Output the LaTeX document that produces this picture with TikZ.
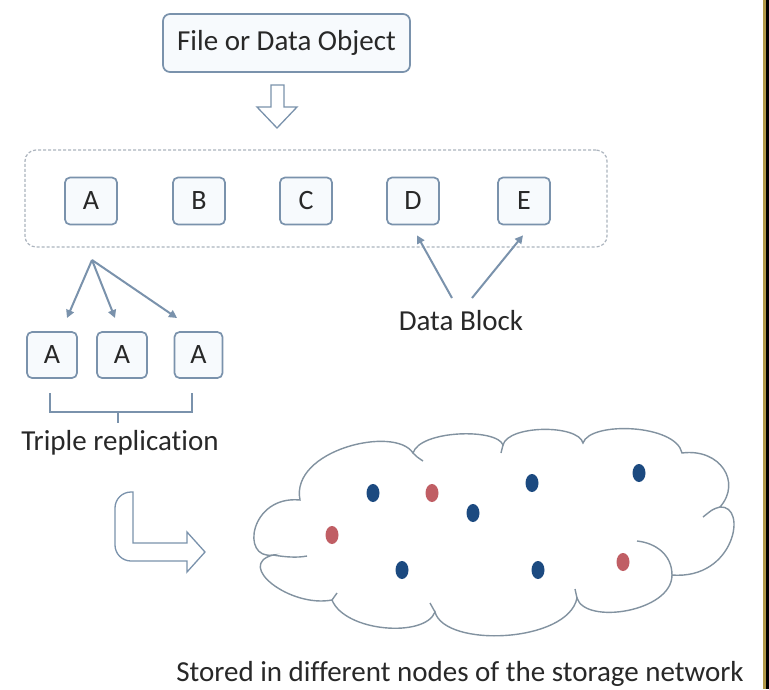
\documentclass[tikz,border=0pt]{standalone}
\usepackage{fontspec}
\setmainfont[Ligatures=NoCommon]{Carlito}
\usetikzlibrary{arrows.meta,calc}

\definecolor{edge}{RGB}{122,146,172}
\definecolor{boxfill}{RGB}{247,250,253}
\definecolor{ink}{RGB}{40,40,40}
\definecolor{dotblue}{RGB}{28,74,128}
\definecolor{dotred}{RGB}{192,94,100}
\definecolor{dashgray}{RGB}{172,180,190}
\definecolor{cloudline}{RGB}{130,146,160}
\definecolor{gold}{RGB}{176,152,72}

\begin{document}
\begin{tikzpicture}[x=1pt,y=-1pt,
  txt/.style={font=\fontsize{29}{32}\selectfont, text=ink, inner sep=0pt},
  blk/.style={draw=edge, line width=1.7pt, fill=boxfill, rounded corners=5pt,
    minimum width=52pt, minimum height=47pt, inner sep=0pt,
    font=\fontsize{28}{30}\selectfont, text=ink},
  link/.style={draw=edge, line width=2pt, -{Triangle[length=8pt,width=8pt]}},
  hollow/.style={draw=edge, line width=1.3pt, fill=white, line join=miter},
  stub/.style={draw=cloudline, line width=1.4pt},
  bluedot/.style={fill=dotblue},
  reddot/.style={fill=dotred}]

\useasboundingbox (0,0) rectangle (769,689);
\fill[white] (0,0) rectangle (769,689);

% source object
\node[blk, rounded corners=7pt, minimum width=247pt, minimum height=58pt,
      font=\fontsize{29}{32}\selectfont] (obj) at (286.5,43) {File or Data Object};

% hollow down arrow
\draw[hollow] (271,85) -- (284,85) -- (284,107) -- (297,107) -- (277,128)
  -- (257,107) -- (271,107) -- cycle;

% dashed group of data blocks
\node[draw=dashgray, line width=1.2pt, dash pattern=on 3pt off 2pt,
      rounded corners=11pt, minimum width=582pt, minimum height=97pt]
      (group) at (316,198.5) {};

\node[blk] (blkA) at (91,201)  {A};
\node[blk] (blkB) at (199,201) {B};
\node[blk] (blkC) at (306,201) {C};
\node[blk] (blkD) at (413,201) {D};
\node[blk] (blkE) at (524,201) {E};

% data block label and its pointers
\node[txt, anchor=base] (datalabel) at (461,330) {Data Block};
\coordinate (fromD) at (452,298);
\coordinate (fromE) at (472,298);
\coordinate (toD) at ($(blkD.south)+(4,10)$);
\coordinate (toE) at ($(blkE.south)+(-1,10)$);
\draw[link] (fromD) -- (toD);
\draw[link] (fromE) -- (toE);

% triple replication of block A
\node[blk, minimum width=50pt, minimum height=46pt] (repA1) at (52,355)  {A};
\node[blk, minimum width=50pt, minimum height=46pt] (repA2) at (122,355) {A};
\node[blk, minimum width=48pt, minimum height=46pt] (repA3) at (198.5,355) {A};

\coordinate (split) at (92,260);
\coordinate (tip1) at (67,318);
\coordinate (tip2) at (115,318);
\coordinate (tip3) at (177,318);
\draw[link] (split) -- (tip1);
\draw[link] (split) -- (tip2);
\draw[link] (split) -- (tip3);

% bracket under the copies
\draw[edge, line width=1.6pt] (50,393) -- (50,412) -- (192,412) -- (192,393);
\draw[edge, line width=1.6pt] (118,412) -- (118,423);

\node[txt, anchor=base] (triplabel) at (120,450) {Triple replication};

% bent hollow arrow
\draw[hollow] (133,492) -- (133,543) -- (187,543) -- (187,532) -- (205,552)
  -- (187,572) -- (187,561) {[rounded corners=16pt] -- (115,561) -- (115,492)} -- cycle;

% storage network cloud
\draw[cloudline, line width=1.4pt, fill=white]
  (300,500) .. controls (290,450) and (395,425) .. (413,453)
  .. controls (420,430) and (497,428) .. (503,445)
  .. controls (508,425) and (578,424) .. (583,443)
  .. controls (590,421) and (676,424) .. (682,453)
  .. controls (720,448) and (742,482) .. (720,507)
  .. controls (748,505) and (735,580) .. (672,575)
  .. controls (672,612) and (585,625) .. (577,598)
  .. controls (568,643) and (445,648) .. (435,612)
  .. controls (425,638) and (345,632) .. (332,600)
  .. controls (290,608) and (235,565) .. (273,555)
  .. controls (240,560) and (250,495) .. (300,500) -- cycle;

% inner lobe hints
\draw[stub] (273,555) .. controls (285,557) and (297,558) .. (307,556);
\draw[stub] (413,453) .. controls (417,457) .. (423,461);
\draw[stub] (503,445) .. controls (502,449) .. (501,453);
\draw[stub] (672,575) .. controls (672,555) and (656,543) .. (637,541);
\draw[stub] (720,507) .. controls (713,509) .. (703,517);
\draw[stub] (577,598) .. controls (576,594) .. (575,589);
\draw[stub] (435,612) .. controls (433,607) .. (430,603);
\draw[stub] (332,600) .. controls (334,596) .. (337,593);

% storage nodes
\foreach \p in {(373,493),(473,513),(402,570),(532,483),(639,473),(538,570)}
  \fill[bluedot] \p ellipse [x radius=6.5, y radius=9];
\foreach \p in {(432,493),(332,535),(623,562)}
  \fill[reddot] \p ellipse [x radius=6.5, y radius=9];

\node[txt, anchor=base] (storedlabel) at (460,681)
  {Stored in different nodes of the storage network};

% frame strip on the right
\fill[gold] (763,0) rectangle (765.5,689);
\fill[black] (765.5,0) rectangle (769,689);
\end{tikzpicture}
\end{document}
